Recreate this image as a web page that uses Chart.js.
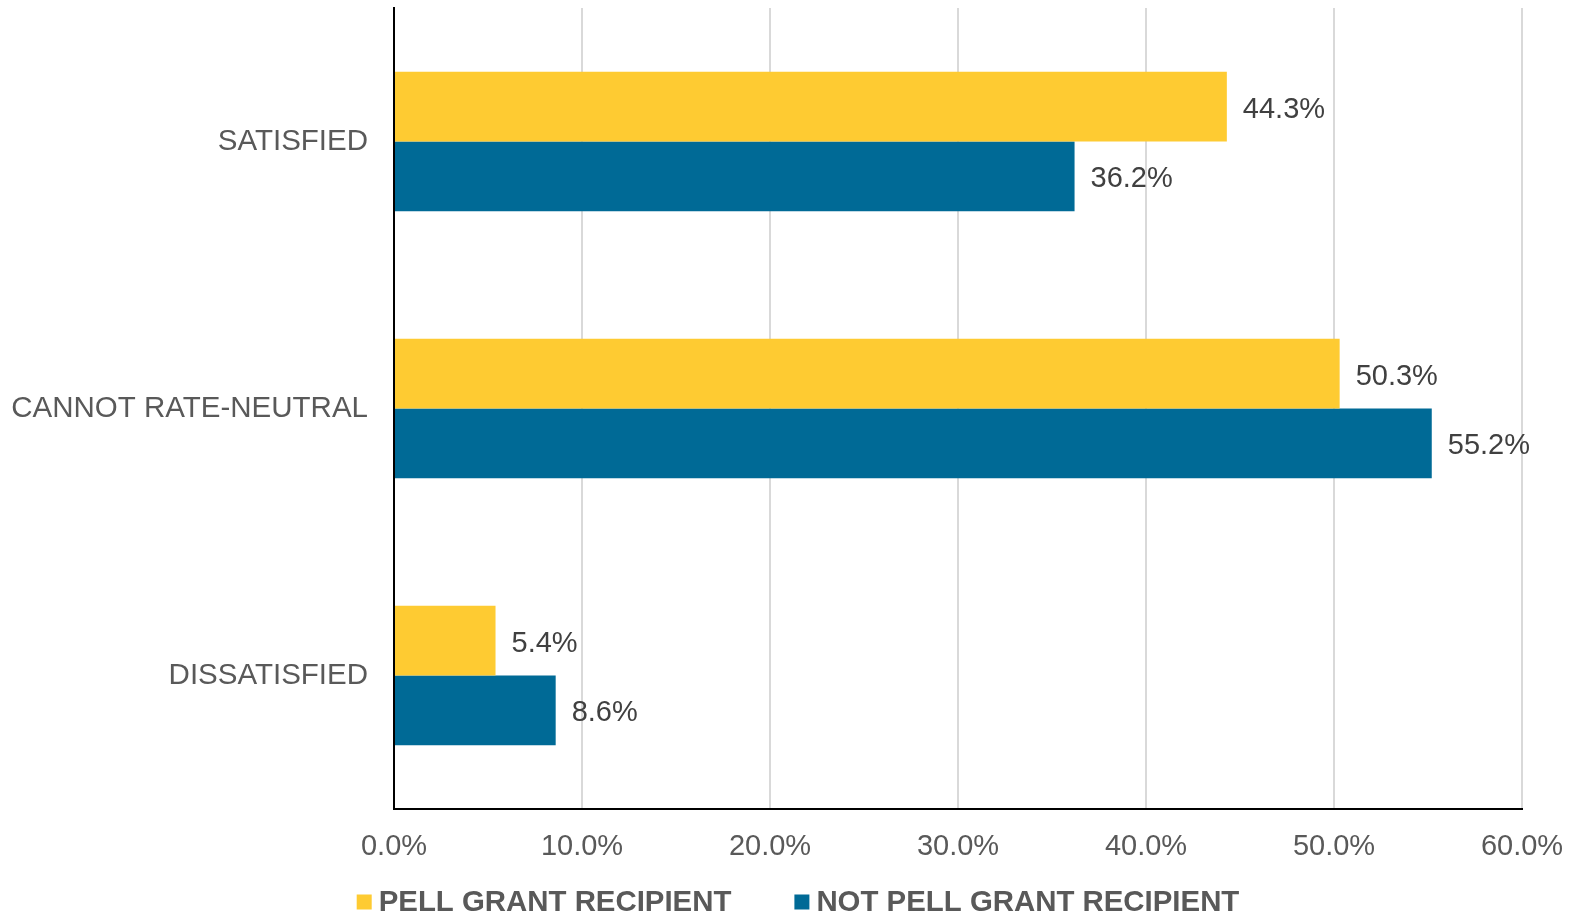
<!DOCTYPE html>
<html><head><meta charset="utf-8">
<script src="https://cdn.jsdelivr.net/npm/chart.js@4/dist/chart.umd.min.js"></script>
<style>html,body{margin:0;padding:0;background:#fff;}#wrap{width:1576px;height:917px;}</style>
</head><body><div id="wrap"><canvas id="c" width="1576" height="917"></canvas></div>
<script>
const categories = ["SATISFIED", "CANNOT RATE-NEUTRAL", "DISSATISFIED"];
const pellValues = [44.3, 50.3, 5.4];
const notPellValues = [36.2, 55.2, 8.6];
const seriesNames = ["PELL GRANT RECIPIENT", "NOT PELL GRANT RECIPIENT"];
const xMax = 60;
const xStep = 10;

const FONT = "'Liberation Sans', Arial, sans-serif";

const labelPlugin = {
  id: 'valueLabels',
  afterDatasetsDraw(chart) {
    const ctx = chart.ctx;
    ctx.save();
    ctx.font = "29px " + FONT;
    ctx.fillStyle = "#404040";
    ctx.textAlign = "left";
    ctx.textBaseline = "middle";
    chart.data.datasets.forEach((ds, i) => {
      const meta = chart.getDatasetMeta(i);
      meta.data.forEach((bar, j) => {
        ctx.fillText(ds.data[j].toFixed(1) + "%", bar.x + 16, bar.y + 3);
      });
    });
    ctx.restore();
  }
};

const legendPlugin = {
  id: 'bottomLegend',
  afterDraw(chart) {
    const ctx = chart.ctx;
    ctx.save();
    ctx.font = "bold 29.4px " + FONT;
    ctx.textBaseline = "middle";
    ctx.textAlign = "left";
    const box = 15, gapText = 7, gapItem = 63;
    const items = chart.data.datasets.map(ds => ({ label: ds.label, color: ds.backgroundColor, w: ctx.measureText(ds.label).width }));
    let total = 0;
    items.forEach((it, i) => { total += box + gapText + it.w + (i < items.length - 1 ? gapItem : 0); });
    let x = 798 - total / 2;
    const y = 902;
    items.forEach(it => {
      ctx.fillStyle = it.color;
      ctx.fillRect(x, y - box / 2, box, box);
      ctx.fillStyle = "#595959";
      ctx.fillText(it.label, x + box + gapText, y + 1);
      x += box + gapText + it.w + gapItem;
    });
    ctx.restore();
  }
};

new Chart(document.getElementById('c'), {
  type: 'bar',
  data: {
    labels: categories,
    datasets: [
      { label: seriesNames[0], data: pellValues, backgroundColor: "#FECB32", borderWidth: 0 },
      { label: seriesNames[1], data: notPellValues, backgroundColor: "#006A96", borderWidth: 0 }
    ]
  },
  options: {
    indexAxis: 'y',
    responsive: false,
    animation: false,
    devicePixelRatio: 1,
    layout: { padding: { top: 8, right: 54, left: 0, bottom: 0 } },
    datasets: { bar: { categoryPercentage: 0.523, barPercentage: 1.0 } },
    plugins: {
      tooltip: { enabled: false },
      legend: { display: false }
    },
    scales: {
      x: {
        min: 0, max: xMax,
        ticks: {
          stepSize: xStep,
          color: "#595959",
          font: { family: FONT, size: 29 },
          padding: 21,
          callback: v => v.toFixed(1) + "%"
        },
        grid: { color: "#d9d9d9", lineWidth: 2, drawTicks: false },
        border: { color: "#000", width: 2 },
        afterFit: s => { s.height = 108; s.paddingLeft = 0; s.paddingRight = 0; }
      },
      y: {
        ticks: {
          color: "#595959",
          font: { family: FONT, size: 29.5 },
          padding: 26
        },
        grid: { display: false, drawTicks: false },
        border: { color: "#000", width: 2 },
        afterFit: s => { s.width = 394; s.paddingTop = 0; s.paddingBottom = 0; }
      }
    }
  },
  plugins: [labelPlugin, legendPlugin]
});
</script>
</body></html>
